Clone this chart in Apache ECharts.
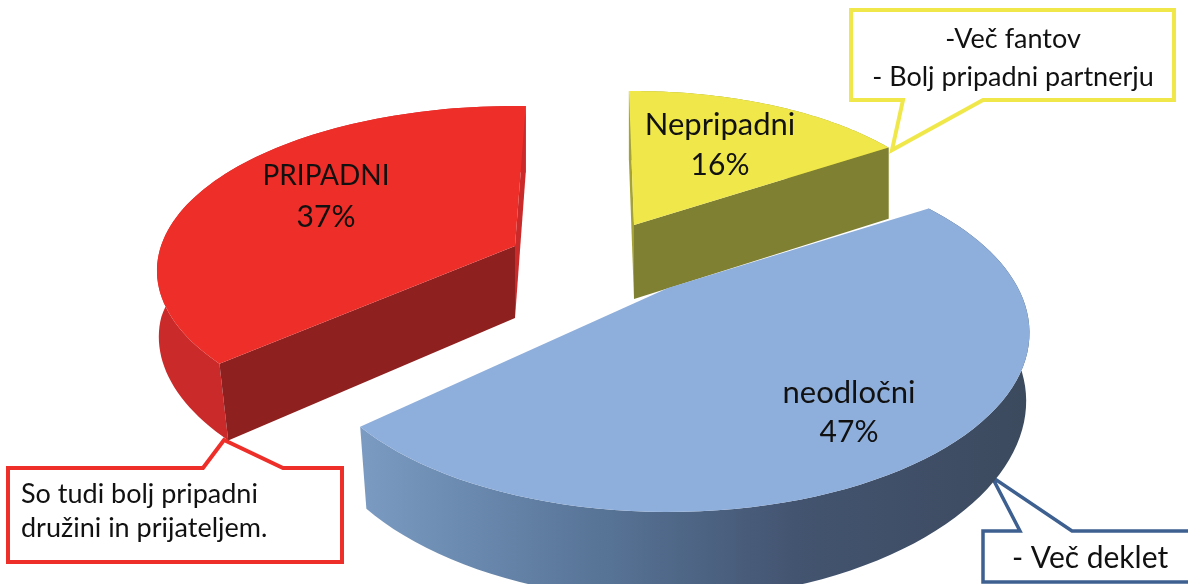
<!DOCTYPE html>
<html>
<head>
<meta charset="utf-8">
<style>
html,body{margin:0;padding:0;background:#fff;}
#main{width:1188px;height:584px;}
</style>
<script src="https://cdn.jsdelivr.net/npm/echarts@6/dist/echarts.min.js"></script>
</head>
<body>
<div id="main"></div>
<script>
// data
var categories = ['Nepripadni', 'neodločni', 'PRIPADNI'];
var values = [16, 47, 37];
var noteYellow = ['-Več fantov', '- Bolj pripadni partnerju'];
var noteRed = ['So tudi bolj pripadni', 'družini in prijateljem.'];
var noteBlue = ['- Več deklet'];

// how each exploded slice sits on the page
var FONT = 'Lato, "Noto Sans", sans-serif';
var layout = [
	{cx: 634, cy: 225, R: 325, k: 150, p: 0.12, rot: -1, depth: 74, conv: 0, top: '#f0e84a', wall: '#9a9a30', cut: '#808033', side: '#a5a335', lx: 720, ly: 125, ly2: 165, size: 31},
	{cx: 668, cy: 288, R: 350, k: 168, p: 0.25, rot: 0, depth: 73, conv: 0.125, top: '#8eaedb', wall: null, cut: null, side: null, lx: 849, ly: 393, ly2: 432, size: 31},
	{cx: 515, cy: 246, R: 354, k: 161, p: 0.15, rot: 2, depth: 72, conv: 0.21, top: '#ee2e28', wall: '#cb2a2a', cut: '#8f2020', side: '#cb2a2a', lx: 326, ly: 176, ly2: 217, size: 28}
];

var total = 0;
for(var n = 0; n < values.length; n++){ total += values[n]; }

function point(g, deg, radius, down){
	var t = deg * Math.PI / 180;
	var x = radius * Math.sin(t) / g.R;
	var z = radius * Math.cos(t) / g.R;
	var w = 1 / (1 + z * g.p);
	var sx = g.cx + g.R * x * w;
	var sy = g.cy - g.k * z * w;
	if(down){
		sy += g.depth * (1 + (w - 1) * 0.6);
		// the near part of the wall leans in towards the middle
		sx += (600 - sx) * g.conv * Math.max(0, w - 1);
	}
	return [sx, sy];
}

function arc(g, from, to, down){
	var pts = [];
	var steps = 80;
	for(var i = 0; i <= steps; i++){
		pts.push(point(g, from + (to - from) * i / steps, g.R, down));
	}
	return pts;
}

function renderSlice(params, api){
	var idx = params.dataIndex;
	var g = layout[idx];
	var before = 0;
	for(var i = 0; i < idx; i++){ before += values[i]; }
	var from = before / total * 360 + g.rot;
	var to = from + api.value(0) / total * 360;
	var apex = point(g, 0, 0, false);
	var apexLow = point(g, 0, 0, true);
	var rim = arc(g, from, to, false);
	var rimLow = arc(g, from, to, true);
	var children = [];

	// outer wall
	var wallFill = g.wall;
	if(idx == 1){
		wallFill = new echarts.graphic.LinearGradient(0, 0, 1, 0, [
			{offset: 0, color: '#7b9bc2'},
			{offset: 0.35, color: '#587598'},
			{offset: 0.65, color: '#435470'},
			{offset: 1, color: '#3c4a5e'}
		]);
	}
	children.push({type: 'polygon', shape: {points: rim.concat(rimLow.slice().reverse())}, style: {fill: wallFill}});

	if(g.cut){
		// thin cut face at the start of the arc (yellow) or at its end (red)
		var thin = idx == 0 ? from : to;
		var wide = idx == 0 ? to : from;
		children.push({type: 'polygon', shape: {points: [apex, point(g, thin, g.R, false), point(g, thin, g.R, true), apexLow]}, style: {fill: g.side}});
		children.push({type: 'polygon', shape: {points: [apex, point(g, wide, g.R, false), point(g, wide, g.R, true), apexLow]}, style: {fill: g.cut}});
	}

	// top face
	children.push({type: 'polygon', shape: {points: [apex].concat(rim)}, style: {fill: g.top}});

	children.push({type: 'text', style: {x: g.lx, y: g.ly, text: categories[idx], font: g.size + 'px ' + FONT, fill: '#111', align: 'center', verticalAlign: 'middle'}});
	children.push({type: 'text', style: {x: g.lx, y: g.ly2, text: api.value(0) + '%', font: '30px ' + FONT, fill: '#111', align: 'center', verticalAlign: 'middle'}});
	return {type: 'group', children: children};
}

function note(points, stroke, width, lines, x, y, size, lineH, align){
	return {
		type: 'group',
		children: [
			{type: 'polygon', shape: {points: points}, style: {fill: '#fff', stroke: stroke, lineWidth: width, lineJoin: 'miter'}},
			{type: 'text', style: {x: x, y: y, text: lines.join('\n'), font: size + 'px ' + FONT, lineHeight: lineH, fill: '#111', align: align, verticalAlign: 'middle'}}
		]
	};
}

var mainChart = echarts.init(document.getElementById('main'));
var option = {
	animation: false,
	backgroundColor: '#fff',
	series: [{
		type: 'custom',
		coordinateSystem: 'none',
		silent: true,
		renderItem: renderSlice,
		data: values
	}],
	graphic: [
		note([[851, 10], [1174, 10], [1174, 100], [983, 100], [892, 150], [903, 100], [851, 100]], '#f0e84a', 4, noteYellow, 1013, 58, 27, 38, 'center'),
		note([[8, 468], [203, 468], [224, 440], [283, 468], [342, 468], [342, 562], [8, 562]], '#ee2e28', 4, noteRed, 21, 511, 27, 34, 'left'),
		note([[983, 531], [1020, 531], [992, 477], [1072, 531], [1200, 531], [1200, 582], [983, 582]], '#3d6090', 3.5, noteBlue, 1012, 558, 30, 36, 'left')
	]
};
mainChart.setOption(option);
</script>
</body>
</html>
